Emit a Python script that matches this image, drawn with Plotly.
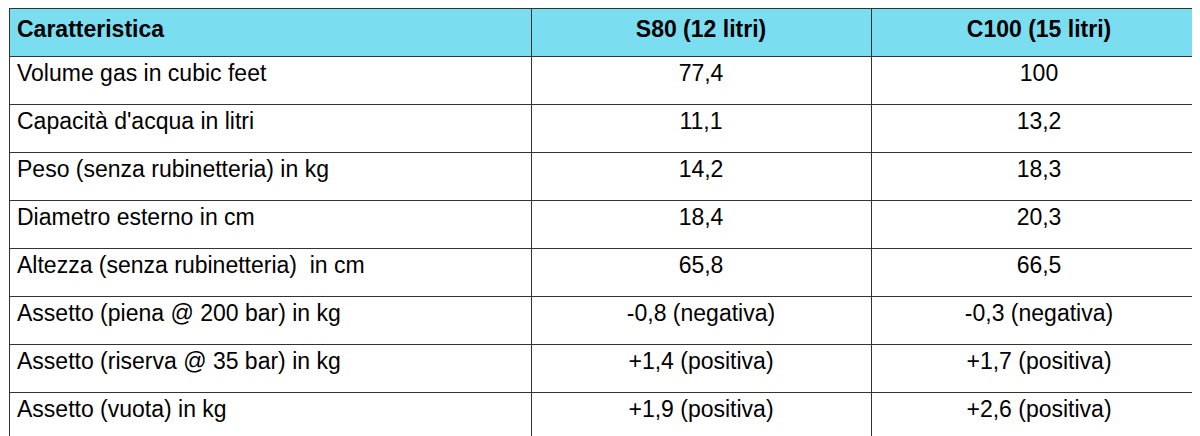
import plotly.graph_objects as go

headers = ["<b>Caratteristica</b>", "<b>S80 (12 litri)</b>", "<b>C100 (15 litri)</b>"]
caratteristiche = ["Volume gas in cubic feet", "Capacità d'acqua in litri",
    "Peso (senza rubinetteria) in kg", "Diametro esterno in cm",
    "Altezza (senza rubinetteria)  in cm", "Assetto (piena @ 200 bar) in kg",
    "Assetto (riserva @ 35 bar) in kg", "Assetto (vuota) in kg"]
s80 = ["77,4", "11,1", "14,2", "18,4", "65,8", "-0,8 (negativa)", "+1,4 (positiva)", "+1,9 (positiva)"]
c100 = ["100", "13,2", "18,3", "20,3", "66,5", "-0,3 (negativa)", "+1,7 (positiva)", "+2,6 (positiva)"]

font = "Liberation Sans, Arial, sans-serif"
fig = go.Figure(go.Table(
    domain=dict(x=[0, 1], y=[0, 1]),
    columnwidth=[522, 340, 336],
    header=dict(values=headers, fill_color="#7ADDF0", line=dict(color="#333", width=1),
                align=["left", "center", "center"], height=48,
                font=dict(family=font, size=23, color="black")),
    cells=dict(values=[caratteristiche, s80, c100], fill_color="white",
               line=dict(color="#333", width=1), align=["left", "center", "center"],
               height=48, font=dict(family=font, size=23, color="black")),
))
fig.update_layout(width=1200, height=436, margin=dict(l=1, r=1, t=0, b=0),
                  paper_bgcolor="white")
fig.write_html("out.html")
